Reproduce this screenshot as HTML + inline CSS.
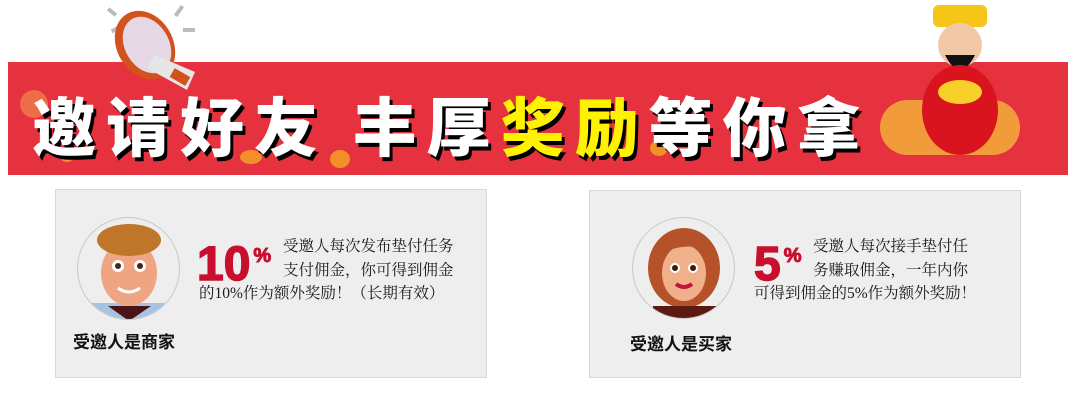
<!DOCTYPE html>
<html><head><meta charset="utf-8"><style>
body{margin:0;width:1080px;height:400px;background:#fff;position:relative;overflow:hidden;font-family:"Liberation Sans","Noto Sans CJK SC",sans-serif}
.abs{position:absolute}
.banner{left:8px;top:62px;width:1060px;height:113px;background:#e5323e}
.title{left:32px;top:84px;font-family:"Noto Sans CJK SC",sans-serif;font-weight:900;font-size:64px;color:#fff;letter-spacing:10px;text-shadow:3px 4px 0 #000;white-space:nowrap;line-height:80px}
.title .y{color:#fff200}
.card{background:#eeeeee;border:1px solid #d9d9d9;box-sizing:border-box}
.circle{border-radius:50%;border:1px solid #c8c8c8;background:#eee;box-sizing:border-box;overflow:hidden}
.label{font-size:17px;font-weight:bold;color:#111;font-family:"Noto Sans CJK SC",sans-serif}
.pct{color:#c8102e;font-weight:bold;font-size:48px;font-family:"Liberation Sans",sans-serif;line-height:48px;-webkit-text-stroke:1.5px #c8102e;white-space:nowrap}
.pct sup{font-size:20px;vertical-align:18px;margin-left:3px;-webkit-text-stroke:1px #c8102e}
.txt{font-family:"Liberation Serif","Noto Serif CJK SC",serif;font-size:15.5px;color:#1a1a1a;line-height:23.5px;white-space:nowrap}
.coin{border-radius:50%;background:#f6a623;opacity:.8}
</style></head><body>
<div class="abs banner"></div>
<div class="abs coin" style="left:20px;top:90px;width:28px;height:28px;background:#f07a4a"></div>
<div class="abs coin" style="left:60px;top:150px;width:14px;height:12px"></div>
<div class="abs coin" style="left:240px;top:150px;width:22px;height:14px"></div>
<div class="abs coin" style="left:330px;top:150px;width:20px;height:18px"></div>
<div class="abs coin" style="left:650px;top:140px;width:18px;height:16px"></div>
<div class="abs coin" style="left:880px;top:100px;width:140px;height:55px;background:#f5b53a;border-radius:30px"></div>
<svg class="abs" style="left:95px;top:0" width="120" height="95">
<g fill="#bbb"><rect x="16" y="27" width="10" height="4" transform="rotate(-30 21 29)"/><rect x="12" y="10" width="10" height="4" transform="rotate(40 17 12)"/><rect x="82" y="5" width="4" height="12" transform="rotate(35 84 11)"/><rect x="88" y="28" width="12" height="4"/></g>
<ellipse cx="50" cy="45" rx="28" ry="36" fill="#d2521d" transform="rotate(-30 50 45)"/>
<ellipse cx="52" cy="45" rx="22" ry="30" fill="#e5d7e3" transform="rotate(-30 52 45)"/>
<polygon points="60,55 100,72 92,90 52,68" fill="#e6e6e6"/>
<rect x="80" y="68" width="10" height="18" fill="#d2521d" transform="rotate(-60 85 77)"/>
</svg>
<div class="abs title">邀请好友 丰厚<span class="y">奖励</span>等你拿</div>
<svg class="abs" style="left:915px;top:0" width="90" height="160">
<rect x="18" y="5" width="54" height="22" rx="6" fill="#f5c518"/>
<ellipse cx="45" cy="45" rx="22" ry="22" fill="#f2c9a8"/>
<path d="M30 55 Q45 85 60 55 Z" fill="#111"/>
<ellipse cx="45" cy="110" rx="38" ry="45" fill="#d9141e"/>
<ellipse cx="45" cy="92" rx="22" ry="12" fill="#f8d02a"/>
</svg>

<div class="abs card" style="left:55px;top:189px;width:432px;height:189px"></div>
<div class="abs circle" style="left:77px;top:217px;width:103px;height:103px">
<svg width="103" height="103"><rect x="10" y="85" width="83" height="20" fill="#a7c3e2"/><polygon points="30,88 73,88 51,103" fill="#4a1414"/><ellipse cx="51" cy="55" rx="28" ry="33" fill="#efa581"/><ellipse cx="51" cy="22" rx="32" ry="16" fill="#c0762a"/><circle cx="40" cy="48" r="6" fill="#fff"/><circle cx="62" cy="48" r="6" fill="#fff"/><circle cx="40" cy="48" r="3" fill="#4a2414"/><circle cx="62" cy="48" r="3" fill="#4a2414"/><path d="M40 70 Q51 78 62 70" stroke="#fff" stroke-width="3" fill="none"/></svg>
</div>
<div class="abs label" style="left:73px;top:328px">受邀人是商家</div>
<div class="abs pct" style="left:197px;top:232px">10<sup>%</sup></div>
<div class="abs txt" style="left:283px;top:235px">受邀人每次发布垫付任务</div>
<div class="abs txt" style="left:283px;top:258.5px">支付佣金，你可得到佣金</div>
<div class="abs txt" style="left:199px;top:282px">的10%作为额外奖励！（长期有效）</div>

<div class="abs card" style="left:589px;top:190px;width:432px;height:188px"></div>
<div class="abs circle" style="left:632px;top:217px;width:103px;height:102px">
<svg width="103" height="102"><ellipse cx="51" cy="50" rx="36" ry="40" fill="#b5522a"/><rect x="20" y="88" width="63" height="16" fill="#5a1a12"/><ellipse cx="51" cy="55" rx="22" ry="28" fill="#f0b08a"/><path d="M28 35 Q51 5 76 35 Q60 22 28 35" fill="#b5522a"/><circle cx="42" cy="50" r="5" fill="#fff"/><circle cx="60" cy="50" r="5" fill="#fff"/><circle cx="42" cy="50" r="3" fill="#3a1a0a"/><circle cx="60" cy="50" r="3" fill="#3a1a0a"/><path d="M43 66 Q51 72 59 66" stroke="#c8103e" stroke-width="4" fill="none"/></svg>
</div>
<div class="abs label" style="left:630px;top:330px">受邀人是买家</div>
<div class="abs pct" style="left:754px;top:232px">5<sup>%</sup></div>
<div class="abs txt" style="left:813px;top:235px">受邀人每次接手垫付任</div>
<div class="abs txt" style="left:813px;top:258.5px">务赚取佣金，一年内你</div>
<div class="abs txt" style="left:754px;top:282px">可得到佣金的5%作为额外奖励！</div>
</body></html>
